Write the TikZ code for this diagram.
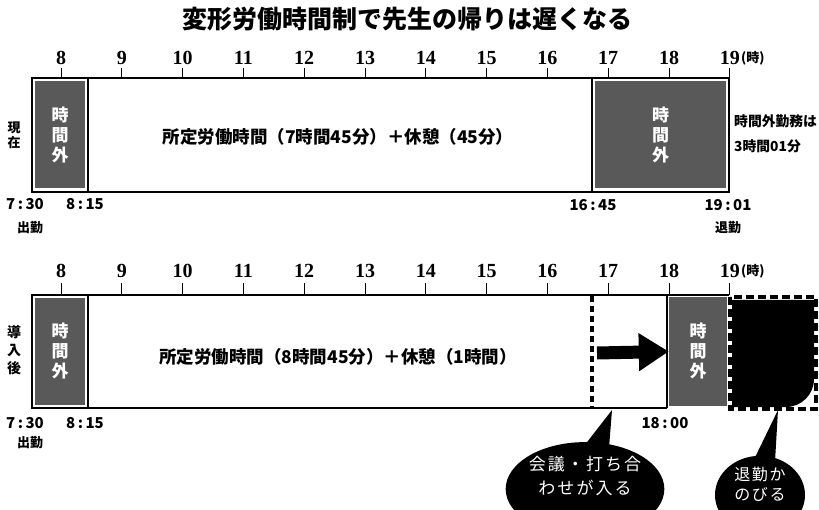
\documentclass[tikz,border=0pt]{standalone}
\usepackage{fontspec}
\newfontfamily\jp{Noto Sans CJK JP}
\newfontfamily\numf{Liberation Serif}
\usetikzlibrary{shapes,arrows.meta,positioning}

\begin{document}
\begin{tikzpicture}[x=1pt,y=-1pt]
			\tikzstyle{Hour}	= [font=\numf\bfseries\fontsize{20}{20}\selectfont, inner sep=0pt]
			\tikzstyle{Stamp}	= [font=\jp\bfseries\fontsize{15}{15}\selectfont, inner sep=0pt]
			\tikzstyle{Label}	= [font=\jp\bfseries\fontsize{17.5}{17.5}\selectfont, inner sep=0pt]
			\tikzstyle{Side}	= [font=\jp\bfseries\fontsize{13}{15}\selectfont, inner sep=0pt, align=center]
			\tikzstyle{Over}	= [fill=black!65, inner sep=0pt, text=white, align=center, font=\jp\bfseries\fontsize{17}{20}\selectfont]
			\tikzstyle{Bubble}	= [ellipse, fill=black, text=white, inner sep=0pt, align=center]
			\tikzstyle{Frame}	= [line width=1.2pt]
			\tikzstyle{Tick}	= [line width=1pt]
			\tikzstyle{Late}	= [line width=3.5pt, dash pattern=on 8pt off 4pt]

			\clip (0,0) rectangle (819,510);
			\useasboundingbox (0,0) rectangle (819,510);

			\node (title) at (407,19) [font=\jp\bfseries\fontsize{25}{25}\selectfont] {変形労働時間制で先生の帰りは遅くなる};

			% hour scales
			\foreach \h [count=\i from 0] in {8,...,19} {
				\node (ha\h) at (61+\i*60.8,58) [Hour] {\h};
				\node (hb\h) at (61+\i*60.8,271) [Hour] {\h};
				\draw [Tick] (61+\i*60.8,68) -- (61+\i*60.8,78);
				\draw [Tick] (61+\i*60.8,283) -- (61+\i*60.8,295);
			}
			\node (ua) [right=1pt of ha19, Side] {(時)};
			\node (ub) [right=1pt of hb19, Side] {(時)};

			% now
			\node (pre1) at (60,135) [Over, minimum width=50pt, minimum height=107pt] {時\\間\\外};
			\node (post1) at (660.5,135) [Over, minimum width=131pt, minimum height=107pt] {時\\間\\外};
			\draw [Frame] (32,78) rectangle (729,192);
			\draw [Frame] (88,78) -- (88,192);
			\draw [Frame] (592,78) -- (592,192);
			\node (work1) at (338,137) [Label] {所定労働時間（7時間45分）＋休憩（45分）};
			\node (now) at (14,135) [Side] {現\\在};
			\node (in1) at (25,204) [Stamp] {7\,:\,30};
			\node (st1) at (85,204) [Stamp] {8\,:\,15};
			\node (go1) at (30,228) [Side] {出勤};
			\node (en1) at (593,205) [Stamp] {16\,:\,45};
			\node (out1) at (728,205) [Stamp] {19\,:\,01};
			\node (leave1) at (728,228) [Side] {退勤};
			\node (extra) at (734,134) [anchor=west, font=\jp\bfseries\fontsize{13.8}{25}\selectfont, inner sep=0pt, align=left] {時間外勤務は\\3時間01分};

			% after
			\node (pre2) at (60,351.5) [Over, minimum width=50pt, minimum height=107pt] {時\\間\\外};
			\node (post2) at (698,351.5) [Over, minimum width=58pt, minimum height=109pt] {時\\間\\外};
			\fill (732,300) -- (814,300) {[rounded corners=28pt] -- (814,407)} -- (732,407) -- cycle;
			\draw [Late] (730,297) rectangle (816,409);
			\draw [Frame] (729,295) -- (32,295) -- (32,408) -- (667,408);
			\draw [Frame] (88,295) -- (88,408);
			\draw [Frame] (667,295) -- (667,408);
			\draw [line width=3.5pt, dash pattern=on 6pt off 4pt] (592,296) -- (592,408);
			\node (work2) at (338,357) [Label] {所定労働時間（8時間45分）＋休憩（1時間）};
			\node (intro) at (14,350) [font=\jp\bfseries\fontsize{14}{18}\selectfont, inner sep=0pt, align=center] {導\\入\\後};
			\node (in2) at (25,423) [Stamp] {7\,:\,30};
			\node (st2) at (85,423) [Stamp] {8\,:\,15};
			\node (go2) at (30,443) [Side] {出勤};
			\node (end2) at (665,423) [Stamp] {18\,:\,00};

			\coordinate (shift) at (597,353);
			\draw [-{Triangle[length=30pt,width=36pt]}, line width=13pt] (shift) -- (post2.west);

			% callouts
			\node (b1) at (585,489) [Bubble, minimum width=156pt, minimum height=72pt, font=\jp\fontsize{17}{24}\selectfont\addfontfeature{LetterSpace=12}] {会議・打ち合\\わせが入る\\[4pt]};
			\node (b2) at (760,495) [Bubble, minimum width=90pt, minimum height=60pt, font=\jp\fontsize{16}{20}\selectfont\addfontfeature{LetterSpace=10}] {退勤か\\のびる\\[2pt]};
			\coordinate (c1) at (612,410);
			\coordinate (c2) at (778,410);
			\fill (c1) -- ([shift={(-4,8)}]b1.north) -- ([shift={(24,6)}]b1.north) -- cycle;
			\fill (c2) -- ([shift={(-8,8)}]b2.north) -- ([shift={(15,6)}]b2.north) -- cycle;
		\end{tikzpicture}
\end{document}
